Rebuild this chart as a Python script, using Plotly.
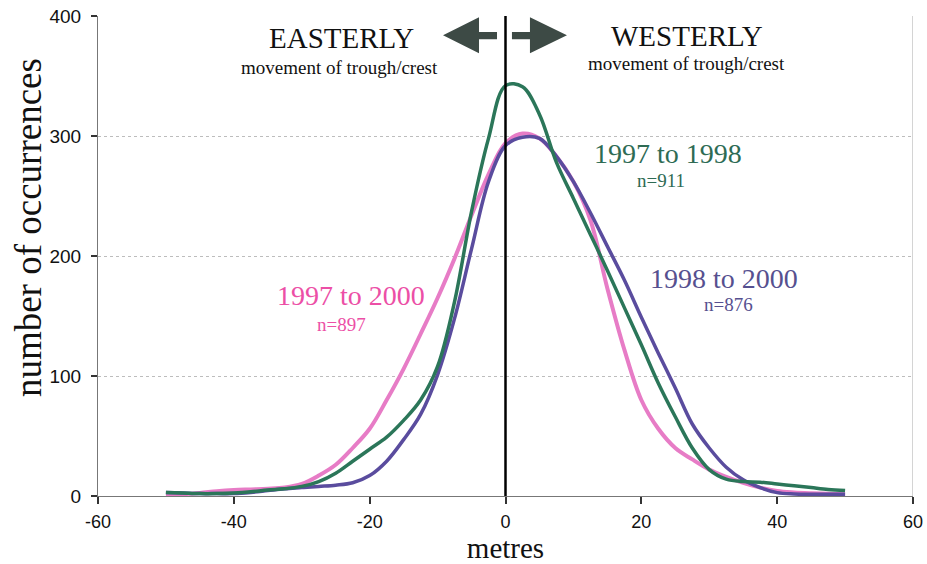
import plotly.graph_objects as go

# ---------------- data ----------------
metres = [-50, -47.5, -45, -42.5, -40, -37.5, -35, -32.5, -30, -27.5, -25, -22.5,
          -20, -17.5, -15, -12.5, -10, -7.5, -5, -2.5, 0, 2.5, 5, 7.5, 10, 12.5,
          15, 17.5, 20, 22.5, 25, 27.5, 30, 32.5, 35, 37.5, 40, 42.5, 45, 47.5, 50]

occ_1997_2000 = [1, 1.5, 2.5, 4, 5, 5.5, 6, 7, 10, 17, 26, 40,
                 56, 80, 106, 135, 165, 198, 234, 268, 294, 302, 298, 283, 262, 230,
                 173, 122, 80, 56, 40, 30.5, 22, 16, 11, 7, 4.2, 3, 2.3, 1.8, 1.4]

occ_1998_2000 = [3, 2.5, 2, 2, 2, 3, 4.5, 6, 7, 8, 9, 11,
                 17, 29, 47, 68, 101, 148, 206, 262, 292, 299, 298, 283, 262, 236,
                 208, 180, 149, 119, 90, 60, 40, 24, 13.5, 7, 2.8, 1.7, 1.4, 1.4, 1.4]

occ_1997_1998 = [3, 2.5, 2, 2, 2.5, 3.5, 5, 6, 8, 12, 19, 29,
                 39, 49, 63, 80, 108, 162, 237, 298, 342, 341, 318, 278, 248, 218,
                 188, 157, 126, 94, 66, 40, 22, 14, 12, 11.5, 10, 8.5, 7, 5.5, 4.5]

x_ticks = [-60, -40, -20, 0, 20, 40, 60]
y_ticks = [0, 100, 200, 300, 400]

PINK = "#e77cc6"
PURPLE = "#5a4c9e"
GREEN = "#2b7659"
PINK_TXT = "#ec4fa6"
PURPLE_TXT = "#56508f"
GREEN_TXT = "#2e6b54"
ARROW = "#3d4a45"

SERIF = "Liberation Serif, Times New Roman, serif"
SANS = "Liberation Sans Narrow, Liberation Sans, Arial, sans-serif"

fig = go.Figure()
fig.add_trace(go.Scatter(x=metres, y=occ_1997_2000, mode="lines",
                         line=dict(color=PINK, width=4, shape="spline", smoothing=1),
                         name="1997 to 2000", hoverinfo="x+y"))
fig.add_trace(go.Scatter(x=metres, y=occ_1998_2000, mode="lines",
                         line=dict(color=PURPLE, width=3.5, shape="spline", smoothing=1),
                         name="1998 to 2000", hoverinfo="x+y"))
fig.add_trace(go.Scatter(x=metres, y=occ_1997_1998, mode="lines",
                         line=dict(color=GREEN, width=3.5, shape="spline", smoothing=1),
                         name="1997 to 1998", hoverinfo="x+y"))

shapes = []
# centre line at 0 m
shapes.append(dict(type="line", xref="x", yref="y", x0=0, x1=0, y0=0, y1=401,
                   line=dict(color="black", width=2.5)))
# right border of plot area
shapes.append(dict(type="line", xref="x", yref="y", x0=60, x1=60, y0=0, y1=400,
                   line=dict(color="#a8a8a8", width=1)))
# direction arrows
left_arrow = "M -9.2 384 L -3.9 399 L -3.9 386.6 L -1.25 386.6 L -1.25 380.6 L -3.9 380.6 L -3.9 369 Z"
right_arrow = "M 9.05 384 L 3.6 399 L 3.6 386.6 L 0.95 386.6 L 0.95 380.6 L 3.6 380.6 L 3.6 369 Z"
for p in (left_arrow, right_arrow):
    shapes.append(dict(type="path", xref="x", yref="y", path=p,
                       fillcolor=ARROW, line=dict(color=ARROW, width=0)))

annotations = [
    dict(x=-24.2, y=381.5, text="EASTERLY", font=dict(family=SERIF, size=29, color="#111111")),
    dict(x=-24.4, y=357, text="movement of trough/crest", font=dict(family=SERIF, size=19, color="#111111")),
    dict(x=26.7, y=383, text="WESTERLY", font=dict(family=SERIF, size=29, color="#111111")),
    dict(x=26.6, y=360.5, text="movement of trough/crest", font=dict(family=SERIF, size=19, color="#111111")),
    dict(x=23.9, y=285.7, text="1997 to 1998", font=dict(family=SERIF, size=28, color=GREEN_TXT)),
    dict(x=22.9, y=263, text="n=911", font=dict(family=SERIF, size=19, color=GREEN_TXT)),
    dict(x=-22.75, y=167, text="1997 to 2000", font=dict(family=SERIF, size=28, color=PINK_TXT)),
    dict(x=-24.1, y=143, text="n=897", font=dict(family=SERIF, size=19, color=PINK_TXT)),
    dict(x=32.2, y=181.5, text="1998 to 2000", font=dict(family=SERIF, size=28, color=PURPLE_TXT)),
    dict(x=32.8, y=159.7, text="n=876", font=dict(family=SERIF, size=19, color=PURPLE_TXT)),
]
for a in annotations:
    a.update(xref="x", yref="y", showarrow=False, xanchor="center", yanchor="middle")

# y-axis title (placed like the reference, not centred on the axis)
annotations.append(dict(xref="paper", yref="y", x=-0.086, y=224,
                        text="number of occurrences", textangle=-90, showarrow=False,
                        xanchor="center", yanchor="middle",
                        font=dict(family=SERIF, size=37, color="#111111")))

fig.update_layout(
    width=927, height=564,
    margin=dict(l=98, r=4, t=16, b=60),
    paper_bgcolor="white", plot_bgcolor="white",
    showlegend=False,
    shapes=shapes,
    annotations=annotations,
    xaxis=dict(range=[-60, 60], tickvals=x_ticks, ticktext=[str(v) for v in x_ticks],
               showgrid=False, zeroline=False,
               showline=True, linecolor="#777777", linewidth=1.2,
               ticks="outside", ticklen=7, tickcolor="#333333", tickwidth=1.5,
               ticklabelstandoff=2, ticklabeloverflow="allow",
               tickfont=dict(family=SANS, size=18, color="#111111"),
               title=dict(text="metres", font=dict(family=SERIF, size=29, color="#111111"),
                          standoff=8)),
    yaxis=dict(range=[0, 400], tickvals=y_ticks, ticktext=[str(v) for v in y_ticks],
               showgrid=True, gridcolor="#bdbdbd", griddash="dot", gridwidth=1,
               zeroline=False,
               showline=True, linecolor="#777777", linewidth=1.2,
               ticks="outside", ticklen=6, tickcolor="#333333", tickwidth=1.5,
               ticklabelstandoff=6,
               tickfont=dict(family=SANS, size=19, color="#111111")),
)

post = (
    "document.documentElement.style.margin='0';"
    "document.documentElement.style.overflow='hidden';"
    "document.body.style.margin='0';"
    "document.body.style.overflow='hidden';"
    "var gd=document.getElementById('{plot_id}');"
    "gd.style.overflow='hidden';"
    "document.querySelectorAll('.main-svg').forEach(function(s){s.style.overflow='hidden';});"
)
fig.write_html("out.html", config={"responsive": False, "displayModeBar": False},
               post_script=post)
